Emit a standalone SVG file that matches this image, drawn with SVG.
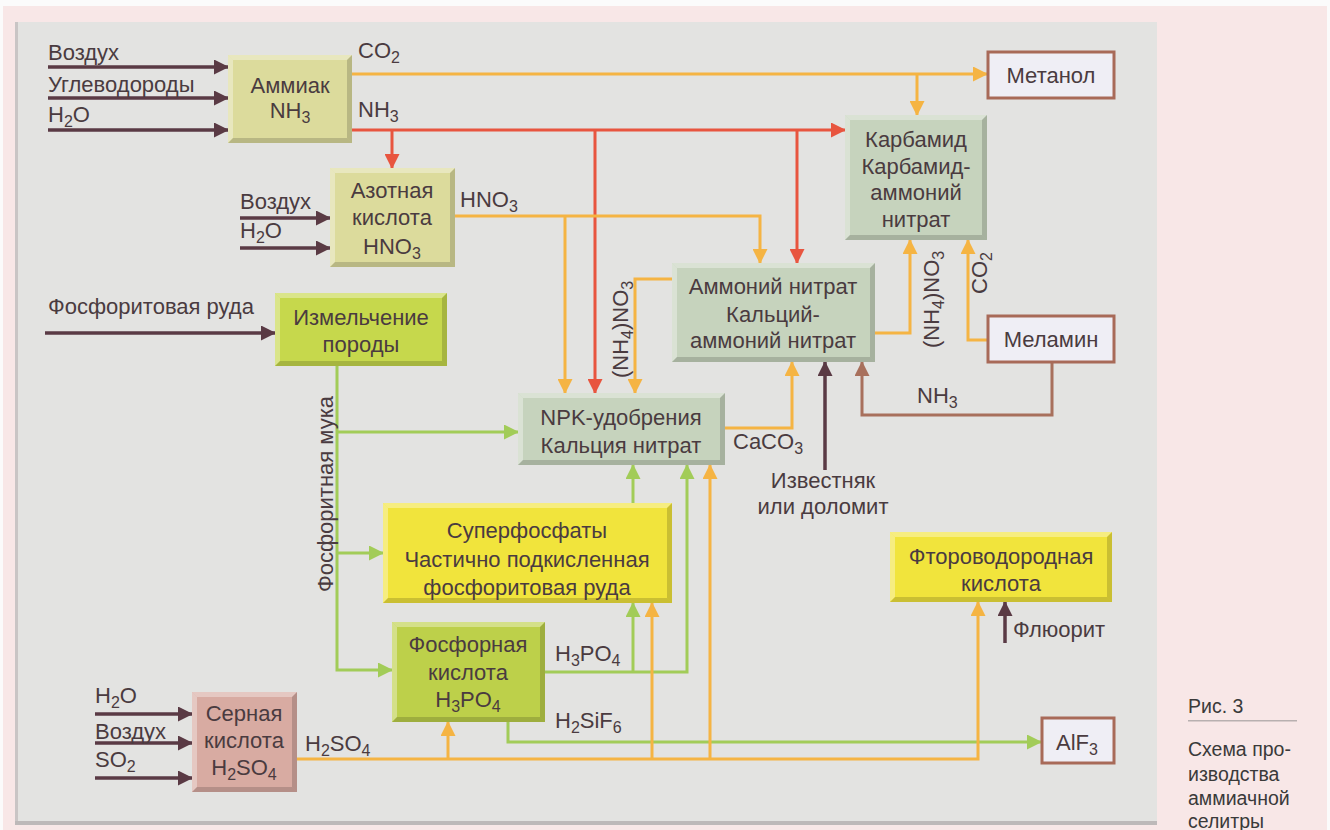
<svg xmlns="http://www.w3.org/2000/svg" width="1330" height="830" viewBox="0 0 1330 830">
<style>
text{font-family:"Liberation Sans",Arial,sans-serif;font-size:22px;fill:#4a3b40}
.c{text-anchor:middle}
.sub{font-size:16px}
.cap{font-size:19.5px;fill:#3a3a3a}
.hl{fill:#fff;opacity:.35}
.sh{fill:#000;opacity:.16}
.o{fill:none;stroke:#f5b443;stroke-width:3}
.r{fill:none;stroke:#e8553f;stroke-width:3}
.g{fill:none;stroke:#a2cc58;stroke-width:3}
.d{fill:none;stroke:#5a3a44;stroke-width:3.5}
.b{fill:none;stroke:#a8705c;stroke-width:3}
.wb{fill:#efeef5;stroke:#a86a58;stroke-width:3}
</style>
<defs>
<marker id="ao" markerUnits="userSpaceOnUse" markerWidth="15" markerHeight="15" refX="14" refY="7.5" orient="auto"><path d="M0,0 L15,7.5 L0,15 z" fill="#f5b443"/></marker>
<marker id="ar" markerUnits="userSpaceOnUse" markerWidth="15" markerHeight="15" refX="14" refY="7.5" orient="auto"><path d="M0,0 L15,7.5 L0,15 z" fill="#e8553f"/></marker>
<marker id="ag" markerUnits="userSpaceOnUse" markerWidth="15" markerHeight="15" refX="14" refY="7.5" orient="auto"><path d="M0,0 L15,7.5 L0,15 z" fill="#a2cc58"/></marker>
<marker id="ad" markerUnits="userSpaceOnUse" markerWidth="15" markerHeight="15" refX="14" refY="7.5" orient="auto"><path d="M0,0 L15,7.5 L0,15 z" fill="#5a3a44"/></marker>
<marker id="ab" markerUnits="userSpaceOnUse" markerWidth="15" markerHeight="15" refX="14" refY="7.5" orient="auto"><path d="M0,0 L15,7.5 L0,15 z" fill="#a8705c"/></marker>
</defs>
<!-- background -->
<rect x="0" y="0" width="1330" height="830" fill="#fbfbfb"/>
<rect x="3" y="6" width="1324" height="824" fill="#f8e7e7"/>
<rect x="15" y="22" width="1142" height="803" fill="#e3e3e1"/>
<rect x="15" y="22" width="3" height="803" fill="#c9c5c5"/>
<rect x="15" y="821" width="1142" height="4" fill="#bdb9b9"/>

<!-- connectors -->
<g id="connectors">
<path class="d" d="M48,67 H228" marker-end="url(#ad)"/>
<path class="d" d="M48,98 H228" marker-end="url(#ad)"/>
<path class="d" d="M48,130 H228" marker-end="url(#ad)"/>
<path class="d" d="M240,218 H330" marker-end="url(#ad)"/>
<path class="d" d="M240,248 H330" marker-end="url(#ad)"/>
<path class="d" d="M45,333 H275" marker-end="url(#ad)"/>
<path class="d" d="M95,714 H192" marker-end="url(#ad)"/>
<path class="d" d="M95,743 H192" marker-end="url(#ad)"/>
<path class="d" d="M95,778 H192" marker-end="url(#ad)"/>
<path class="d" d="M825,470 V362" marker-end="url(#ad)"/>
<path class="d" d="M1005,643 V602" marker-end="url(#ad)"/>
<path class="o" d="M352,74 H987" marker-end="url(#ao)"/>
<path class="o" d="M917,74 V115" marker-end="url(#ao)"/>
<path class="r" d="M352,130 H845" marker-end="url(#ar)"/>
<path class="r" d="M392,130 V168" marker-end="url(#ar)"/>
<path class="r" d="M595,130 V393" marker-end="url(#ar)"/>
<path class="r" d="M797,130 V263" marker-end="url(#ar)"/>
<path class="o" d="M455,216 H760 V263" marker-end="url(#ao)"/>
<path class="o" d="M565,216 V393" marker-end="url(#ao)"/>
<path class="o" d="M672,279 H635 V393" marker-end="url(#ao)"/>
<path class="o" d="M875,333 H910 V240" marker-end="url(#ao)"/>
<path class="o" d="M987,340 H968 V240" marker-end="url(#ao)"/>
<path class="b" d="M1052,362 V415 H862 V362" marker-end="url(#ab)"/>
<path class="o" d="M725,428 H792 V362" marker-end="url(#ao)"/>
<path class="g" d="M337,366 V670 H392" marker-end="url(#ag)"/>
<path class="g" d="M337,432 H518" marker-end="url(#ag)"/>
<path class="g" d="M337,553 H383" marker-end="url(#ag)"/>
<path class="g" d="M545,672 H687 V465" marker-end="url(#ag)"/>
<path class="g" d="M633,672 V603" marker-end="url(#ag)"/>
<path class="g" d="M633,503 V465" marker-end="url(#ag)"/>
<path class="g" d="M508,722 V742 H1041" marker-end="url(#ag)"/>
<path class="o" d="M297,759 H978 V602" marker-end="url(#ao)"/>
<path class="o" d="M448,759 V722" marker-end="url(#ao)"/>
<path class="o" d="M652,759 V603" marker-end="url(#ao)"/>
<path class="o" d="M710,759 V465" marker-end="url(#ao)"/>
</g>

<!-- connector labels -->
<g id="labels">
<text x="48" y="60">Воздух</text>
<text x="48" y="92">Углеводороды</text>
<text x="48" y="122">H<tspan class="sub" dy="5">2</tspan><tspan dy="-5">O</tspan></text>
<text x="240" y="209">Воздух</text>
<text x="240" y="238">H<tspan class="sub" dy="5">2</tspan><tspan dy="-5">O</tspan></text>
<text x="48" y="314">Фосфоритовая руда</text>
<text x="95" y="703">H<tspan class="sub" dy="5">2</tspan><tspan dy="-5">O</tspan></text>
<text x="95" y="739">Воздух</text>
<text x="95" y="767">SO<tspan class="sub" dy="5">2</tspan></text>
<text x="358" y="58">CO<tspan class="sub" dy="5">2</tspan></text>
<text x="358" y="117">NH<tspan class="sub" dy="5">3</tspan></text>
<text x="460" y="207">HNO<tspan class="sub" dy="5">3</tspan></text>
<text transform="translate(628,378) rotate(-90)">(NH<tspan class="sub" dy="5">4</tspan><tspan dy="-5">)NO</tspan><tspan class="sub" dy="5">3</tspan></text>
<text transform="translate(939,348) rotate(-90)">(NH<tspan class="sub" dy="5">4</tspan><tspan dy="-5">)NO</tspan><tspan class="sub" dy="5">3</tspan></text>
<text transform="translate(987,294) rotate(-90)">CO<tspan class="sub" dy="5">2</tspan></text>
<text x="917" y="403">NH<tspan class="sub" dy="5">3</tspan></text>
<text x="733" y="449">CaCO<tspan class="sub" dy="5">3</tspan></text>
<text class="c" x="823" y="488">Известняк</text>
<text class="c" x="823" y="514">или доломит</text>
<text transform="translate(333,592) rotate(-90)">Фосфоритная мука</text>
<text x="555" y="661">H<tspan class="sub" dy="5">3</tspan><tspan dy="-5">PO</tspan><tspan class="sub" dy="5">4</tspan></text>
<text x="555" y="728">H<tspan class="sub" dy="5">2</tspan><tspan dy="-5">SiF</tspan><tspan class="sub" dy="5">6</tspan></text>
<text x="305" y="751">H<tspan class="sub" dy="5">2</tspan><tspan dy="-5">SO</tspan><tspan class="sub" dy="5">4</tspan></text>
<text x="1013" y="637">Флюорит</text>
</g>

<!-- nodes -->
<g id="ammiak">
<rect x="228" y="55" width="124" height="88" fill="#dcdb9c"/>
<polygon class="hl" points="228,55 352,55 347,60 233,60"/><polygon class="hl" points="228,55 233,60 233,138 228,143"/>
<polygon class="sh" points="228,143 233,138 347,138 352,143"/><polygon class="sh" points="352,55 352,143 347,138 347,60"/>
<text class="c" x="290" y="93">Аммиак</text>
<text class="c" x="290" y="118">NH<tspan class="sub" dy="5">3</tspan></text>
</g>
<g id="azotnaya">
<rect x="330" y="168" width="125" height="99" fill="#dcdb9c"/>
<polygon class="hl" points="330,168 455,168 450,173 335,173"/><polygon class="hl" points="330,168 335,173 335,262 330,267"/>
<polygon class="sh" points="330,267 335,262 450,262 455,267"/><polygon class="sh" points="455,168 455,267 450,262 450,173"/>
<text class="c" x="392" y="198">Азотная</text>
<text class="c" x="392" y="225">кислота</text>
<text class="c" x="392" y="254">HNO<tspan class="sub" dy="5">3</tspan></text>
</g>
<g id="izmelchenie">
<rect x="275" y="293" width="172" height="73" fill="#c6d84c"/>
<polygon class="hl" points="275,293 447,293 442,298 280,298"/><polygon class="hl" points="275,293 280,298 280,361 275,366"/>
<polygon class="sh" points="275,366 280,361 442,361 447,366"/><polygon class="sh" points="447,293 447,366 442,361 442,298"/>
<text class="c" x="361" y="325">Измельчение</text>
<text class="c" x="361" y="352">породы</text>
</g>
<g id="npk">
<rect x="518" y="393" width="207" height="72" fill="#c6d3bd"/>
<polygon class="hl" points="518,393 725,393 720,398 523,398"/><polygon class="hl" points="518,393 523,398 523,460 518,465"/>
<polygon class="sh" points="518,465 523,460 720,460 725,465"/><polygon class="sh" points="725,393 725,465 720,460 720,398"/>
<text class="c" x="621" y="425">NPK-удобрения</text>
<text class="c" x="621" y="453">Кальция нитрат</text>
</g>
<g id="ammonium-nitrate">
<rect x="672" y="263" width="203" height="99" fill="#c6d3bd"/>
<polygon class="hl" points="672,263 875,263 870,268 677,268"/><polygon class="hl" points="672,263 677,268 677,357 672,362"/>
<polygon class="sh" points="672,362 677,357 870,357 875,362"/><polygon class="sh" points="875,263 875,362 870,357 870,268"/>
<text class="c" x="773" y="294">Аммоний нитрат</text>
<text class="c" x="773" y="322">Кальций-</text>
<text class="c" x="773" y="348">аммоний нитрат</text>
</g>
<g id="karbamid">
<rect x="845" y="115" width="142" height="125" fill="#c6d3bd"/>
<polygon class="hl" points="845,115 987,115 982,120 850,120"/><polygon class="hl" points="845,115 850,120 850,235 845,240"/>
<polygon class="sh" points="845,240 850,235 982,235 987,240"/><polygon class="sh" points="987,115 987,240 982,235 982,120"/>
<text class="c" x="916" y="147">Карбамид</text>
<text class="c" x="916" y="174">Карбамид-</text>
<text class="c" x="916" y="200">аммоний</text>
<text class="c" x="916" y="227">нитрат</text>
</g>
<g id="metanol">
<rect class="wb" x="988" y="52" width="126" height="46"/>
<text class="c" x="1051" y="83">Метанол</text>
</g>
<g id="melamin">
<rect class="wb" x="988" y="316" width="126" height="46"/>
<text class="c" x="1051" y="347">Меламин</text>
</g>
<g id="superphosphate">
<rect x="383" y="503" width="289" height="100" fill="#f1e43c"/>
<polygon class="hl" points="383,503 672,503 667,508 388,508"/><polygon class="hl" points="383,503 388,508 388,598 383,603"/>
<polygon class="sh" points="383,603 388,598 667,598 672,603"/><polygon class="sh" points="672,503 672,603 667,598 667,508"/>
<text class="c" x="527" y="538">Суперфосфаты</text>
<text class="c" x="527" y="567">Частично подкисленная</text>
<text class="c" x="527" y="595">фосфоритовая руда</text>
</g>
<g id="phosphoric">
<rect x="392" y="622" width="153" height="100" fill="#bdd04a"/>
<polygon class="hl" points="392,622 545,622 540,627 397,627"/><polygon class="hl" points="392,622 397,627 397,717 392,722"/>
<polygon class="sh" points="392,722 397,717 540,717 545,722"/><polygon class="sh" points="545,622 545,722 540,717 540,627"/>
<text class="c" x="468" y="652">Фосфорная</text>
<text class="c" x="468" y="680">кислота</text>
<text class="c" x="468" y="707">H<tspan class="sub" dy="5">3</tspan><tspan dy="-5">PO</tspan><tspan class="sub" dy="5">4</tspan></text>
</g>
<g id="sulfuric">
<rect x="192" y="692" width="105" height="100" fill="#d8aba2"/>
<polygon class="hl" points="192,692 297,692 292,697 197,697"/><polygon class="hl" points="192,692 197,697 197,787 192,792"/>
<polygon class="sh" points="192,792 197,787 292,787 297,792"/><polygon class="sh" points="297,692 297,792 292,787 292,697"/>
<text class="c" x="244" y="721">Серная</text>
<text class="c" x="244" y="748">кислота</text>
<text class="c" x="244" y="775">H<tspan class="sub" dy="5">2</tspan><tspan dy="-5">SO</tspan><tspan class="sub" dy="5">4</tspan></text>
</g>
<g id="hf">
<rect x="890" y="532" width="222" height="70" fill="#f1e43c"/>
<polygon class="hl" points="890,532 1112,532 1107,537 895,537"/><polygon class="hl" points="890,532 895,537 895,597 890,602"/>
<polygon class="sh" points="890,602 895,597 1107,597 1112,602"/><polygon class="sh" points="1112,532 1112,602 1107,597 1107,537"/>
<text class="c" x="1001" y="564">Фтороводородная</text>
<text class="c" x="1001" y="591">кислота</text>
</g>
<g id="alf3">
<rect class="wb" x="1042" y="718" width="72" height="45"/>
<text class="c" x="1077" y="750">AlF<tspan class="sub" dy="5">3</tspan></text>
</g>

<!-- caption -->
<g id="caption">
<text class="cap" x="1188" y="713">Рис. 3</text>
<rect x="1188" y="720" width="109" height="1.5" fill="#b8b0b0"/>
<text class="cap" x="1188" y="756">Схема про-</text>
<text class="cap" x="1188" y="781">изводства</text>
<text class="cap" x="1188" y="805">аммиачной</text>
<text class="cap" x="1188" y="828">селитры</text>
</g>
</svg>
